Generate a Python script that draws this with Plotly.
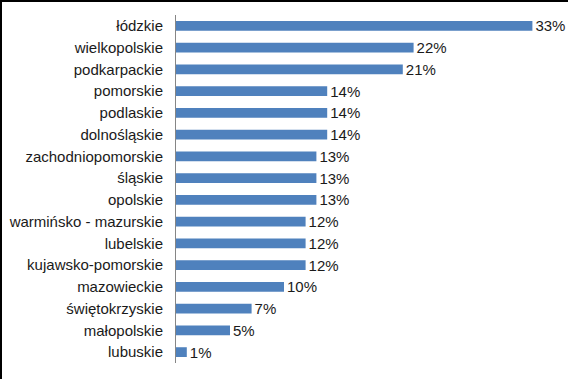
import plotly.graph_objects as go

categories = ["łódzkie", "wielkopolskie", "podkarpackie", "pomorskie", "podlaskie",
              "dolnośląskie", "zachodniopomorskie", "śląskie", "opolskie",
              "warmińsko - mazurskie", "lubelskie", "kujawsko-pomorskie",
              "mazowieckie", "świętokrzyskie", "małopolskie", "lubuskie"]
values = [33, 22, 21, 14, 14, 14, 13, 13, 13, 12, 12, 12, 10, 7, 5, 1]
labels = [f"{v}%" for v in values]

W, H = 568, 379
L, R, T, B = 176, 14, 15, 16
pw, ph = W - L - R, H - T - B

fig = go.Figure(go.Bar(
    x=values, y=categories, orientation="h",
    marker=dict(color="#4F81BD", line=dict(width=0)),
    text=labels, textposition="outside", cliponaxis=False,
    constraintext="none",
    textfont=dict(family="Liberation Sans, Arial", size=15, color="#1a1a1a"),
))

def px_x(p):
    return (p - L) / pw

def px_y(p):
    return 1 - (p - T) / ph

fig.update_layout(
    width=W, height=H,
    margin=dict(l=L, r=R, t=T, b=B, autoexpand=False),
    paper_bgcolor="white", plot_bgcolor="white",
    bargap=0.55, showlegend=False,
    font=dict(family="Liberation Sans, Arial", size=15, color="#1a1a1a"),
    xaxis=dict(range=[0, 35], visible=False, fixedrange=True, automargin=False),
    yaxis=dict(autorange="reversed", showline=True, linecolor="#868686", linewidth=1,
               ticks="", showgrid=False, ticklabelstandoff=9, automargin=False,
               tickfont=dict(family="Liberation Sans, Arial", size=15, color="#1a1a1a")),
    shapes=[
        dict(type="line", xref="paper", yref="paper",
             x0=px_x(0), x1=px_x(W), y0=px_y(1), y1=px_y(1),
             line=dict(color="black", width=2)),
        dict(type="line", xref="paper", yref="paper",
             x0=px_x(1), x1=px_x(1), y0=px_y(0), y1=px_y(H),
             line=dict(color="black", width=2)),
    ],
)

fig.write_html("out.html", config={"displayModeBar": False},
               post_script="document.body.style.margin='0px';document.body.style.overflow='hidden';")
